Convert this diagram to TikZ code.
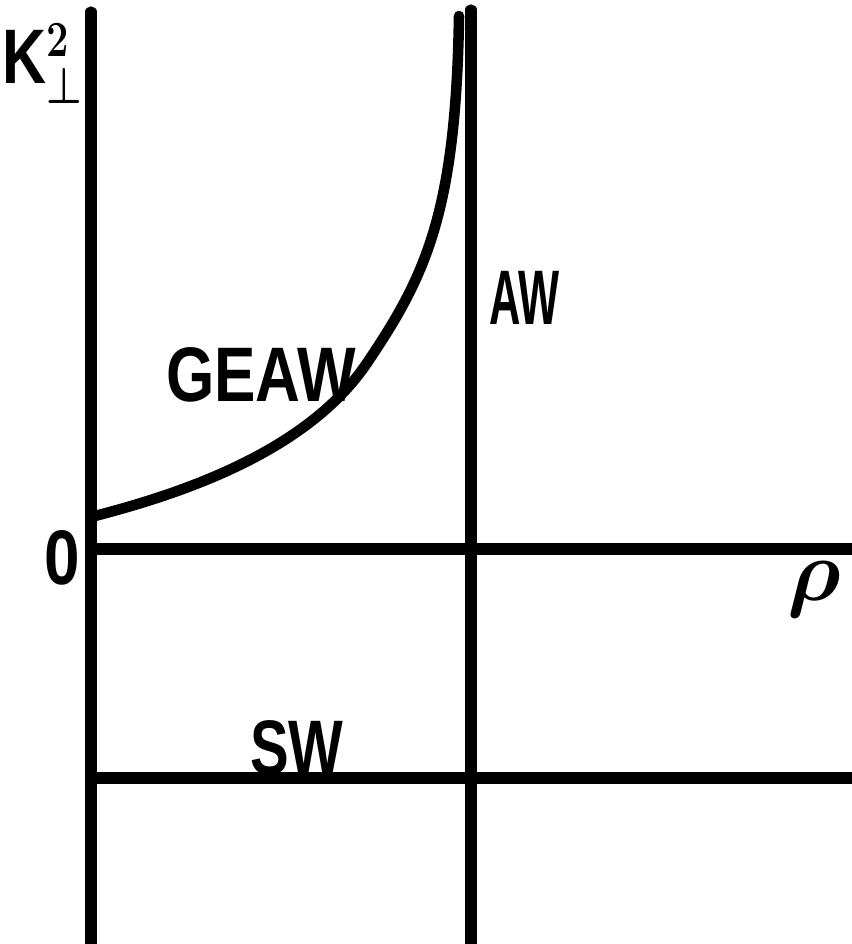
\documentclass[tikz,border=0pt]{standalone}
\usepackage{amsmath}
\usepackage{fontspec}
\setmainfont{Liberation Sans}
\usetikzlibrary{positioning}
\tikzset{
  every picture/.style={line join=round, line cap=round},
  axisline/.style={line width=3.2pt},
  branch/.style={line width=3pt},
  wavelabel/.style={font=\fontsize{22}{24}\selectfont\bfseries, inner sep=0pt, xscale=0.75, transform shape},
}

\begin{document}
\begin{tikzpicture}
\useasboundingbox (0,0) rectangle (8.51,9.44);
% axes and resonance lines
\coordinate (O) at (0.91,3.95);
\coordinate (ytop) at (0.91,9.32);
\coordinate (ybot) at (0.91,-0.2);
\coordinate (xend) at (8.7,3.95);
\coordinate (restop) at (4.71,9.34);
\coordinate (resbot) at (4.71,-0.2);
\coordinate (swleft) at (0.91,1.66);
\coordinate (swright) at (8.7,1.66);
\draw[axisline] (ytop) -- (ybot);
\draw[axisline] (O) -- (xend);
\draw[axisline] (restop) -- (resbot);
\draw[axisline] (swleft) -- (swright);
% GEAW branch
\coordinate (gstart) at (0.91,4.27);
\coordinate (gmid) at (3.67,5.81);
\coordinate (gend) at (4.59,9.28);
\draw[branch] (gstart) .. controls (1.81,4.50) and (3.07,4.92) .. (gmid)
  .. controls (4.25,6.67) and (4.56,7.3) .. (gend);
% labels
\node[wavelabel, xscale=1.05] (kperp) at (0.43,8.8) {K$^{\boldsymbol{2}}_{\boldsymbol{\perp}}$};
\node[wavelabel, xscale=1.1] (zero) at (0.62,3.86) {0};
\node[wavelabel, xscale=1.07] (geaw) at (2.61,5.69) {GEAW};
\node[wavelabel, xscale=0.75] (aw) at (5.25,6.46) {AW};
\node[wavelabel] (sw) at (2.97,1.96) {SW};
\node[inner sep=0pt, font=\fontsize{24}{26}\selectfont] (rho) at (8.14,3.54) {$\boldsymbol{\rho}$};
\end{tikzpicture}
\end{document}
